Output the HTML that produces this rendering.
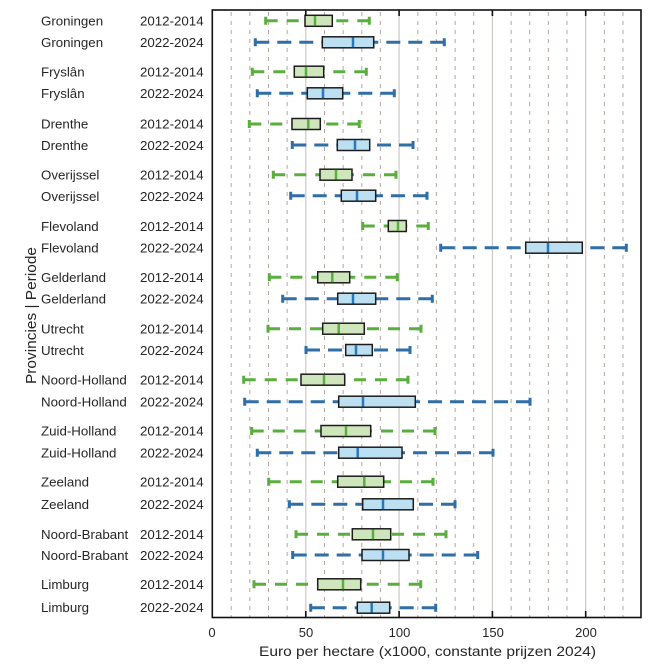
<!DOCTYPE html>
<html><head><meta charset="utf-8"><style>
html,body{margin:0;padding:0;background:#fff;}
svg{display:block;}
text{font-family:"Liberation Sans",Arial,sans-serif;fill:#262626;}
</style></head><body>
<svg width="672" height="669" viewBox="0 0 672 669" xmlns="http://www.w3.org/2000/svg">
<rect width="672" height="669" fill="#fff"/>
<!-- dashed minor grid -->
<g stroke="#b8a49e" stroke-width="1" stroke-dasharray="4 5">
<line x1="231.2" y1="12" x2="231.2" y2="617"/><line x1="249.8" y1="12" x2="249.8" y2="617"/>
<line x1="268.5" y1="12" x2="268.5" y2="617"/><line x1="287.1" y1="12" x2="287.1" y2="617"/>
<line x1="324.5" y1="12" x2="324.5" y2="617"/><line x1="343.1" y1="12" x2="343.1" y2="617"/>
<line x1="361.8" y1="12" x2="361.8" y2="617"/><line x1="380.4" y1="12" x2="380.4" y2="617"/>
<line x1="417.8" y1="12" x2="417.8" y2="617"/><line x1="436.4" y1="12" x2="436.4" y2="617"/>
<line x1="455.1" y1="12" x2="455.1" y2="617"/><line x1="473.7" y1="12" x2="473.7" y2="617"/>
<line x1="511.1" y1="12" x2="511.1" y2="617"/><line x1="529.7" y1="12" x2="529.7" y2="617"/>
<line x1="548.4" y1="12" x2="548.4" y2="617"/><line x1="567" y1="12" x2="567" y2="617"/>
<line x1="604.4" y1="12" x2="604.4" y2="617"/><line x1="623" y1="12" x2="623" y2="617"/>
</g>
<g stroke="#cfc8c4" stroke-width="1.2">
<line x1="305.8" y1="10" x2="305.8" y2="617"/><line x1="399.1" y1="10" x2="399.1" y2="617"/>
<line x1="492.4" y1="10" x2="492.4" y2="617"/><line x1="585.7" y1="10" x2="585.7" y2="617"/>
</g>

<!-- green series -->
<g id="green">
<g fill="none" stroke="#5aae3e" stroke-width="3" stroke-dasharray="12 9">
<path d="M265.7 20.8H305M369.3 20.8H332.3"/>
<path d="M252.3 71.7H294.3M366.3 71.7H323.7"/>
<path d="M249.3 124H292M359.3 124H320.3"/>
<path d="M273.3 174.7H320M396 174.7H352"/>
<path d="M362.7 226H388.3M428.3 226H406.3"/>
<path d="M269.3 277.3H317.7M397.3 277.3H349.7"/>
<path d="M268 328.7H322.7M421 328.7H364.3"/>
<path d="M243.7 379.7H301M408 379.7H344.7"/>
<path d="M251.7 431H321M435 431H370.7"/>
<path d="M268.7 481.7H337.7M433 481.7H383.7"/>
<path d="M296 534.3H352.3M446 534.3H390.7"/>
<path d="M254 584.3H317.7M420.7 584.3H360.7"/>
</g>
<g fill="none" stroke="#5aae3e" stroke-width="3">
<path d="M265.7 16.8V24.8M369.3 16.8V24.8"/>
<path d="M252.3 67.7V75.7M366.3 67.7V75.7"/>
<path d="M249.3 120V128M359.3 120V128"/>
<path d="M273.3 170.7V178.7M396 170.7V178.7"/>
<path d="M362.7 222V230M428.3 222V230"/>
<path d="M269.3 273.3V281.3M397.3 273.3V281.3"/>
<path d="M268 324.7V332.7M421 324.7V332.7"/>
<path d="M243.7 375.7V383.7M408 375.7V383.7"/>
<path d="M251.7 427V435M435 427V435"/>
<path d="M268.7 477.7V485.7M433 477.7V485.7"/>
<path d="M296 530.3V538.3M446 530.3V538.3"/>
<path d="M254 580.3V588.3M420.7 580.3V588.3"/>
</g>
<g fill="#cfe6bd" stroke="#1c1c1c" stroke-width="1.5">
<rect x="305" y="15.3" width="27.3" height="11"/>
<rect x="294.3" y="66.2" width="29.4" height="11"/>
<rect x="292" y="118.5" width="28.3" height="11"/>
<rect x="320" y="169.2" width="32" height="11"/>
<rect x="388.3" y="220.5" width="18" height="11"/>
<rect x="317.7" y="271.8" width="32" height="11"/>
<rect x="322.7" y="323.2" width="41.6" height="11"/>
<rect x="301" y="374.2" width="43.7" height="11"/>
<rect x="321" y="425.5" width="49.7" height="11"/>
<rect x="337.7" y="476.2" width="46" height="11"/>
<rect x="352.3" y="528.8" width="38.4" height="11"/>
<rect x="317.7" y="578.8" width="43" height="11"/>
</g>
<g stroke="#5aae3e" stroke-width="2.5">
<path d="M315 16V25.6M306 66.9V76.5M308.3 119.2V128.8M336 169.9V179.5M398 221.2V230.8M332.3 272.5V282.1M338.7 323.9V333.5M324 374.9V384.5M346 426.2V435.8M364.3 476.9V486.5M373 529.5V539.1M343 579.5V589.1"/>
</g>
</g>

<!-- blue series -->
<g id="blue">
<g fill="none" stroke="#2f6ea6" stroke-width="3" stroke-dasharray="14 8">
<path d="M255.3 42.3H322.3M444.3 42.3H373.7"/>
<path d="M257.3 93.3H307.3M394.3 93.3H342.7"/>
<path d="M292.3 145H337.3M413 145H369.7"/>
<path d="M290.7 195.7H341.3M427 195.7H375.7"/>
<path d="M440.7 247.7H525.7M626.3 247.7H582.3"/>
<path d="M282.7 298.7H337.7M432.3 298.7H375.7"/>
<path d="M306 350H345.7M410 350H372.3"/>
<path d="M244.7 401.7H338.7M530 401.7H415.3"/>
<path d="M257.3 452.7H338.7M493 452.7H402"/>
<path d="M289.3 504.3H362.7M455 504.3H413.3"/>
<path d="M292.7 555H362M477.7 555H409"/>
<path d="M310.7 607.7H357.3M435.7 607.7H389.7"/>
</g>
<g fill="none" stroke="#2f6ea6" stroke-width="3">
<path d="M255.3 38.3V46.3M444.3 38.3V46.3"/>
<path d="M257.3 89.3V97.3M394.3 89.3V97.3"/>
<path d="M292.3 141V149M413 141V149"/>
<path d="M290.7 191.7V199.7M427 191.7V199.7"/>
<path d="M440.7 243.7V251.7M626.3 243.7V251.7"/>
<path d="M282.7 294.7V302.7M432.3 294.7V302.7"/>
<path d="M306 346V354M410 346V354"/>
<path d="M244.7 397.7V405.7M530 397.7V405.7"/>
<path d="M257.3 448.7V456.7M493 448.7V456.7"/>
<path d="M289.3 500.3V508.3M455 500.3V508.3"/>
<path d="M292.7 551V559M477.7 551V559"/>
<path d="M310.7 603.7V611.7M435.7 603.7V611.7"/>
</g>
<g fill="#bcdff2" stroke="#1c1c1c" stroke-width="1.5">
<rect x="322.3" y="36.8" width="51.4" height="11"/>
<rect x="307.3" y="87.8" width="35.4" height="11"/>
<rect x="337.3" y="139.5" width="32.4" height="11"/>
<rect x="341.3" y="190.2" width="34.4" height="11"/>
<rect x="525.7" y="242.2" width="56.6" height="11"/>
<rect x="337.7" y="293.2" width="38" height="11"/>
<rect x="345.7" y="344.5" width="26.6" height="11"/>
<rect x="338.7" y="396.2" width="76.6" height="11"/>
<rect x="338.7" y="447.2" width="63.3" height="11"/>
<rect x="362.7" y="498.8" width="50.6" height="11"/>
<rect x="362" y="549.5" width="47" height="11"/>
<rect x="357.3" y="602.2" width="32.4" height="11"/>
</g>
<g stroke="#2a78bc" stroke-width="2.5">
<path d="M353 37.5V47.1M323 88.5V98.1M355 140.2V149.8M357 190.9V200.5M548 242.9V252.5M353 293.9V303.5M356 345.2V354.8M363 396.9V406.5M357.7 447.9V457.5M383 499.5V509.1M383 550.2V559.8M371.7 602.9V612.5"/>
</g>
</g>

<!-- frame -->
<rect x="212.3" y="10" width="428.7" height="607.5" fill="none" stroke="#111" stroke-width="1.6"/>
<g stroke="#111" stroke-width="1.6">
<path d="M305.8 10V16M399.1 10V16M492.4 10V16M585.7 10V16"/>
<path d="M305.8 617.5V611M399.1 617.5V611M492.4 617.5V611M585.7 617.5V611"/>
</g>

<!-- x tick labels -->
<g font-size="13" text-anchor="middle">
<text x="212" y="637">0</text>
<text x="306" y="637">50</text>
<text x="399.5" y="637">100</text>
<text x="493" y="637">150</text>
<text x="586" y="637">200</text>
</g>
<text x="259" y="656" font-size="14" textLength="337" lengthAdjust="spacingAndGlyphs">Euro per hectare (x1000, constante prijzen 2024)</text>
<text transform="translate(36,384) rotate(-90)" x="0" y="0" font-size="15" textLength="137" lengthAdjust="spacingAndGlyphs">Provincies | Periode</text>

<!-- row labels -->
<g font-size="13.3">
<text x="41" y="25.5">Groningen</text><text x="140" y="25.5">2012-2014</text>
<text x="41" y="47">Groningen</text><text x="140" y="47">2022-2024</text>
<text x="41" y="76.5">Fryslân</text><text x="140" y="76.5">2012-2014</text>
<text x="41" y="98">Fryslân</text><text x="140" y="98">2022-2024</text>
<text x="41" y="128.5">Drenthe</text><text x="140" y="128.5">2012-2014</text>
<text x="41" y="150">Drenthe</text><text x="140" y="150">2022-2024</text>
<text x="41" y="179.5">Overijssel</text><text x="140" y="179.5">2012-2014</text>
<text x="41" y="201">Overijssel</text><text x="140" y="201">2022-2024</text>
<text x="41" y="231">Flevoland</text><text x="140" y="231">2012-2014</text>
<text x="41" y="252.5">Flevoland</text><text x="140" y="252.5">2022-2024</text>
<text x="41" y="282">Gelderland</text><text x="140" y="282">2012-2014</text>
<text x="41" y="303.5">Gelderland</text><text x="140" y="303.5">2022-2024</text>
<text x="41" y="333.5">Utrecht</text><text x="140" y="333.5">2012-2014</text>
<text x="41" y="355">Utrecht</text><text x="140" y="355">2022-2024</text>
<text x="41" y="384.5">Noord-Holland</text><text x="140" y="384.5">2012-2014</text>
<text x="41" y="406.5">Noord-Holland</text><text x="140" y="406.5">2022-2024</text>
<text x="41" y="435.5">Zuid-Holland</text><text x="140" y="435.5">2012-2014</text>
<text x="41" y="457.5">Zuid-Holland</text><text x="140" y="457.5">2022-2024</text>
<text x="41" y="486.5">Zeeland</text><text x="140" y="486.5">2012-2014</text>
<text x="41" y="509">Zeeland</text><text x="140" y="509">2022-2024</text>
<text x="41" y="539">Noord-Brabant</text><text x="140" y="539">2012-2014</text>
<text x="41" y="560">Noord-Brabant</text><text x="140" y="560">2022-2024</text>
<text x="41" y="589">Limburg</text><text x="140" y="589">2012-2014</text>
<text x="41" y="612">Limburg</text><text x="140" y="612">2022-2024</text>
</g>
</svg>
</body></html>
